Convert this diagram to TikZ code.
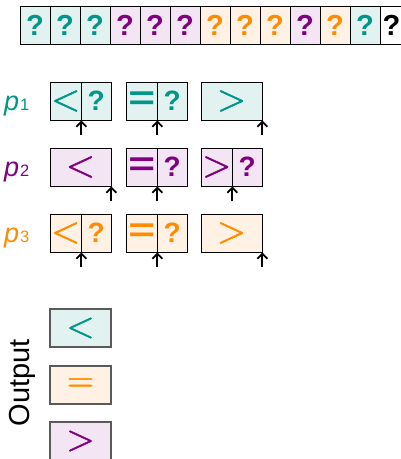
\documentclass[tikz,border=0pt]{standalone}
\usepackage{fontspec}
\setmainfont{Liberation Sans}
\newfontfamily\symfont[FakeBold=1.5]{Latin Modern Roman}
\newfontfamily\eqfont[FakeStretch=1.35]{Liberation Sans}
\usetikzlibrary{arrows.meta}

\definecolor{tealfg}{RGB}{0,150,136}
\definecolor{tealbg}{RGB}{226,242,240}
\definecolor{purpfg}{RGB}{128,0,128}
\definecolor{purpbg}{RGB}{243,229,243}
\definecolor{orngfg}{RGB}{255,140,0}
\definecolor{orngbg}{RGB}{255,242,228}
\definecolor{outline}{RGB}{90,90,90}

\tikzset{
  cell/.style={draw=black, line width=0.8pt, minimum width=30pt, minimum height=38pt,
    inner sep=0pt, font=\fontsize{29}{29}\selectfont\bfseries},
  half/.style={draw=black, line width=0.8pt, minimum width=30.5pt, minimum height=38pt,
    inner sep=0pt},
  full/.style={half, minimum width=61pt},
  qm/.style={font=\fontsize{28}{28}\selectfont\bfseries},
  sym/.style={font=\symfont\fontsize{38}{38}\selectfont},
  bsym/.style={font=\eqfont\fontsize{34}{34}\selectfont\bfseries},
  outbox/.style={draw=outline, line width=1.1pt, minimum width=61pt, minimum height=38pt,
    inner sep=0pt, font=\symfont\fontsize{37}{37}\selectfont},
  plabel/.style={inner sep=0pt, anchor=base west},
  ptr/.style={-{Straight Barb[length=5pt,width=10pt]}, line width=1.9pt},
  T/.style={fill=tealbg, text=tealfg},
  P/.style={fill=purpbg, text=purpfg},
  O/.style={fill=orngbg, text=orngfg},
}

\newcommand{\plab}[1]{\fontsize{27}{27}\selectfont\itshape p\hspace{1pt}{\fontsize{16.5}{16.5}\selectfont\upshape #1}}

\begin{document}
\begin{tikzpicture}[x=1pt,y=-1pt]
\useasboundingbox (0,0) rectangle (401,459);
\clip (0,0) rectangle (401,459);

% input sequence
\node[cell,T] (s1)  at (35,25)  {?};
\node[cell,T] (s2)  at (65,25)  {?};
\node[cell,T] (s3)  at (95,25)  {?};
\node[cell,P] (s4)  at (125,25) {?};
\node[cell,P] (s5)  at (155,25) {?};
\node[cell,P] (s6)  at (185,25) {?};
\node[cell,O] (s7)  at (215,25) {?};
\node[cell,O] (s8)  at (245,25) {?};
\node[cell,O] (s9)  at (275,25) {?};
\node[cell,P] (s10) at (305,25) {?};
\node[cell,O] (s11) at (335,25) {?};
\node[cell,T] (s12) at (365,25) {?};
\node[cell,fill=white,text=black] (s13) at (395,25) {\hspace*{-7pt}?};

% pass 1
\node[plabel,text=tealfg] (p1) at (4,110) {\plab{1}};
\node[half,T,sym] (a1l) at (65.75,101) {<};
\node[half,T,qm]  (a1r) at (96.25,101) {?};
\node[half,T,bsym] (a2l) at (141.75,101) {=};
\node[half,T,qm]  (a2r) at (172.25,101) {?};
\node[full,T,sym] (a3) at (231.5,101) {>};
\draw[ptr] ([yshift=-15pt]a1l.south east) -- (a1l.south east);
\draw[ptr] ([yshift=-15pt]a2l.south east) -- (a2l.south east);
\draw[ptr] ([yshift=-15pt]a3.south east) -- (a3.south east);

% pass 2
\node[plabel,text=purpfg] (p2) at (4,176) {\plab{2}};
\node[full,P,sym] (b1) at (80.5,167) {<};
\node[half,P,bsym] (b2l) at (141.75,167) {=};
\node[half,P,qm]  (b2r) at (172.25,167) {?};
\node[half,P,sym] (b3l) at (216.75,167) {>};
\node[half,P,qm]  (b3r) at (247.25,167) {?};
\draw[ptr] ([yshift=-15pt]b1.south east) -- (b1.south east);
\draw[ptr] ([yshift=-15pt]b2l.south east) -- (b2l.south east);
\draw[ptr] ([yshift=-15pt]b3l.south east) -- (b3l.south east);

% pass 3
\node[plabel,text=orngfg] (p3) at (4,242) {\plab{3}};
\node[half,O,sym] (c1l) at (65.75,233) {<};
\node[half,O,qm]  (c1r) at (96.25,233) {?};
\node[half,O,bsym] (c2l) at (141.75,233) {=};
\node[half,O,qm]  (c2r) at (172.25,233) {?};
\node[full,O,sym] (c3) at (231.5,233) {>};
\draw[ptr] ([yshift=-15pt]c1l.south east) -- (c1l.south east);
\draw[ptr] ([yshift=-15pt]c2l.south east) -- (c2l.south east);
\draw[ptr] ([yshift=-15pt]c3.south east) -- (c3.south east);

% output
\node[rotate=90, font=\fontsize{29}{29}\selectfont] (out) at (22,383) {Output};
\node[outbox,T] (o1) at (80.5,328) {<};
\node[outbox,O] (o2) at (80.5,385) {=};
\node[outbox,P] (o3) at (80.5,441) {>};
\end{tikzpicture}
\end{document}
